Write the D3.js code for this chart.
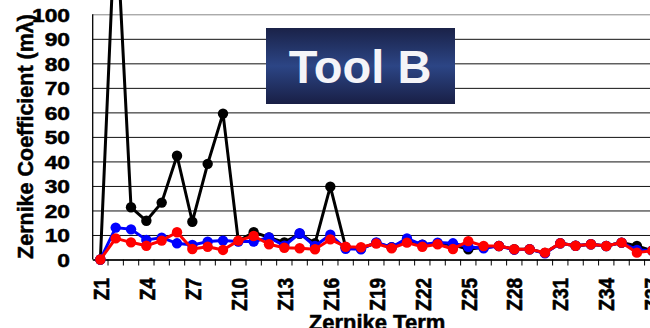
<!DOCTYPE html>
<html>
<head>
<meta charset="utf-8">
<script src="https://cdn.jsdelivr.net/npm/d3@7"></script>
<style>
  html, body { margin: 0; padding: 0; background: #fff; }
  svg { display: block; }
  text { font-family: "Liberation Sans", Arial, sans-serif; font-weight: bold; }
  .heavy { stroke: #000; stroke-width: 0.5px; paint-order: stroke; }
</style>
</head>
<body>
<svg id="chart" width="650" height="328"></svg>
<script>
// ---- data ----
const terms = d3.range(1, 38).map(i => "Z" + i);
const tickTerms = terms.filter((d, i) => i % 3 === 0);
const yTicks = [0, 10, 20, 30, 40, 50, 60, 70, 80, 90, 100];

const seriesBlack = [0, 143, 21.3, 15.8, 23.2, 42.3, 15.4, 39, 59.5, 7.5, 11.1, 9.0, 7.0, 10.5, 6.6, 29.7, 5.0, 4.5, 6.8, 5.0, 8.0, 6.0, 6.5, 6.0, 4.2, 5.0, 5.5, 4.2, 4.2, 2.7, 6.6, 5.6, 6.2, 5.5, 6.9, 5.5, 3.6];
const seriesBlue  = [0, 13.0, 12.3, 8.0, 8.9, 6.6, 5.9, 7.3, 7.7, 7.3, 7.3, 9.0, 5.6, 10.7, 5.5, 10.1, 4.4, 4.2, 7.0, 5.0, 8.6, 6.0, 6.9, 6.6, 5.2, 4.6, 5.5, 4.0, 4.2, 2.5, 6.6, 5.6, 6.2, 5.5, 6.9, 3.9, 3.6];
const seriesRed   = [0, 8.6, 7.0, 5.6, 7.7, 11.1, 4.3, 5.2, 3.9, 7.7, 9.6, 6.2, 4.8, 4.6, 4.2, 8.2, 5.2, 5.0, 6.5, 4.6, 6.9, 5.2, 6.2, 4.3, 7.5, 5.5, 5.5, 4.2, 4.2, 2.8, 6.6, 5.6, 6.2, 5.5, 6.9, 2.8, 3.6];

const seriesList = [
  { name: "black", color: "#000000", values: seriesBlack },
  { name: "blue",  color: "#0000ff", values: seriesBlue },
  { name: "red",   color: "#ff0000", values: seriesRed }
];

// ---- layout ----
const plotL = 92.7, plotT = 14.3, plotB = 259.5;
const step = 15.33;
const plotR = plotL + step * terms.length;
const stretch = 1.2;

const svg = d3.select("#chart");

const x = d3.scaleBand().domain(terms).range([plotL, plotR]).paddingInner(0).paddingOuter(0);
const y = d3.scaleLinear().domain([0, 100]).range([plotB, plotT]);

// gridlines + y labels
const yAxis = d3.axisLeft(y).tickValues(yTicks).tickSize(-(plotR - plotL)).tickFormat(d3.format("d"));
const gy = svg.append("g").attr("transform", `translate(${plotL},0)`).call(yAxis);
gy.select(".domain").remove();
gy.selectAll(".tick line").attr("stroke", "#111").attr("stroke-width", 1);
gy.selectAll(".tick").filter(d => d === 100).select("line").attr("stroke", "#888");
gy.selectAll(".tick text")
  .attr("class", "heavy")
  .attr("x", 0)
  .attr("text-anchor", "end")
  .attr("font-size", 19)
  .attr("fill", "#000")
  .attr("transform", `translate(-22.7,0) scale(${stretch},1)`)
  .attr("dy", "0.36em");

// y axis line
svg.append("line").attr("x1", plotL).attr("x2", plotL).attr("y1", plotT).attr("y2", plotB)
  .attr("stroke", "#000").attr("stroke-width", 1.3);

// x axis
const xAxis = d3.axisBottom(x).tickValues(tickTerms).tickSize(0);
const gx = svg.append("g").attr("transform", `translate(0,${plotB})`).call(xAxis);
gx.select(".domain").attr("stroke", "#000").attr("stroke-width", 1.5);
gx.selectAll(".tick text")
  .attr("class", "heavy")
  .attr("y", 0).attr("x", 0).attr("dy", "0.36em")
  .attr("text-anchor", "end")
  .attr("font-size", 19)
  .attr("fill", "#000")
  .attr("transform", `translate(0,18.5) scale(${stretch},1) rotate(-90)`);

// boundary tick marks
svg.append("g").selectAll("line").data(terms).join("line")
  .attr("x1", d => x(d) + x.bandwidth()).attr("x2", d => x(d) + x.bandwidth())
  .attr("y1", plotB).attr("y2", plotB + 6)
  .attr("stroke", "#000").attr("stroke-width", 1);

// series
const line = d3.line().x((d, i) => x(terms[i]) + x.bandwidth() / 2).y(d => y(d));
seriesList.forEach(s => {
  const g = svg.append("g");
  g.append("path").datum(s.values).attr("d", line)
    .attr("fill", "none").attr("stroke", s.color).attr("stroke-width", 3)
    .attr("stroke-linejoin", "round");
  g.selectAll("circle").data(s.values).join("circle")
    .attr("cx", (d, i) => x(terms[i]) + x.bandwidth() / 2)
    .attr("cy", d => y(d))
    .attr("r", 5.2)
    .attr("fill", s.color);
});

// axis titles
svg.append("text")
  .attr("class", "heavy")
  .attr("transform", "translate(33.3,136.5) rotate(-90)")
  .attr("text-anchor", "middle")
  .attr("font-size", 21.5)
  .attr("fill", "#000")
  .text("Zernike Coefficient (m\u03BB)");

svg.append("text")
  .attr("class", "heavy")
  .attr("x", 377).attr("y", 329.5)
  .attr("text-anchor", "middle")
  .attr("font-size", 22)
  .attr("fill", "#000")
  .text("Zernike Term");

// Tool B label box
const defs = svg.append("defs");
const grad = defs.append("linearGradient").attr("id", "boxGrad")
  .attr("x1", 0).attr("y1", 0).attr("x2", 0).attr("y2", 1);
grad.append("stop").attr("offset", "0%").attr("stop-color", "#1a2248");
grad.append("stop").attr("offset", "50%").attr("stop-color", "#2c4585");
grad.append("stop").attr("offset", "100%").attr("stop-color", "#191f45");

svg.append("rect").attr("x", 266).attr("y", 28).attr("width", 189).attr("height", 76)
  .attr("fill", "url(#boxGrad)");
svg.append("text")
  .attr("x", 360).attr("y", 83.3)
  .attr("text-anchor", "middle")
  .attr("font-size", 47)
  .attr("fill", "#f4f4f8")
  .text("Tool B");
</script>
</body>
</html>
